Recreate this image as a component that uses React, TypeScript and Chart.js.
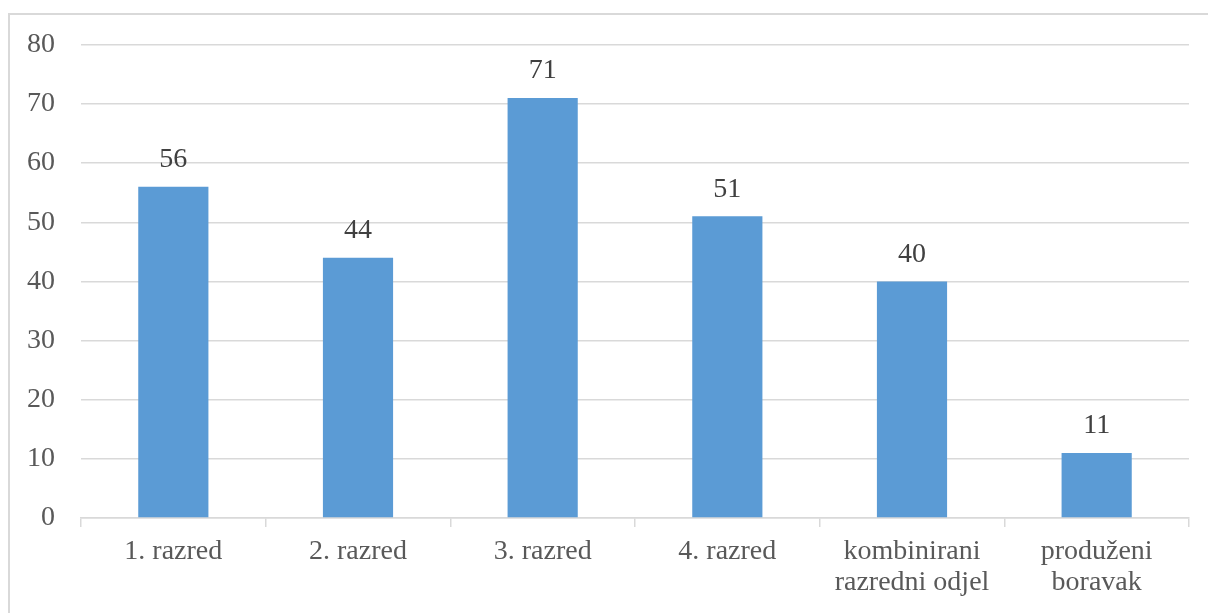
import React, { useEffect, useRef } from "react";
import { Chart, registerables } from "chart.js";

Chart.register(...registerables);

const categories: (string | string[])[] = [
  "1. razred",
  "2. razred",
  "3. razred",
  "4. razred",
  ["kombinirani", "razredni odjel"],
  ["produženi", "boravak"],
];
const values = [56, 44, 71, 51, 40, 11];
const yMin = 0;
const yMax = 80;
const yStep = 10;

const FONT = "'Liberation Serif', 'Times New Roman', serif";

const dataLabelPlugin = {
  id: "dataLabels",
  afterDatasetsDraw(chart: any) {
    const ctx = chart.ctx;
    const meta = chart.getDatasetMeta(0);
    ctx.save();
    ctx.font = `28px ${FONT}`;
    ctx.fillStyle = "#404040";
    ctx.textAlign = "center";
    ctx.textBaseline = "middle";
    meta.data.forEach((bar: any, i: number) => {
      ctx.fillText(String(values[i]), bar.x, bar.y - 27);
    });
    ctx.restore();
  },
};

export default function App() {
  const ref = useRef<HTMLCanvasElement>(null);
  useEffect(() => {
    if (!ref.current) return;
    const chart = new Chart(ref.current, {
      type: "bar",
      data: {
        labels: categories,
        datasets: [
          {
            data: values,
            backgroundColor: "#5B9BD5",
            borderWidth: 0,
            categoryPercentage: 1,
            barPercentage: 0.38,
          },
        ],
      },
      options: {
        animation: false,
        responsive: false,
        maintainAspectRatio: false,
        layout: { padding: { top: 9, right: 19, bottom: 0, left: 0 } },
        plugins: { legend: { display: false }, tooltip: { enabled: false } },
        scales: {
          x: {
            grid: {
              offset: true,
              drawOnChartArea: false,
              drawTicks: true,
              tickLength: 9,
              color: "#d9d9d9",
              lineWidth: 1.5,
            },
            border: { display: true, color: "#d9d9d9", width: 1.5 },
            ticks: {
              color: "#595959",
              font: { family: FONT, size: 28, lineHeight: 1.1 },
              padding: 9,
              maxRotation: 0,
              autoSkip: false,
            },
            afterFit(scale: any) {
              scale.height = 95;
            },
          },
          y: {
            min: yMin,
            max: yMax,
            grid: { color: "#d9d9d9", drawTicks: false, lineWidth: 1.5 },
            border: { display: false },
            ticks: {
              stepSize: yStep,
              color: "#595959",
              font: { family: FONT, size: 28 },
              padding: 26,
            },
            afterFit(scale: any) {
              scale.width = 71;
            },
          },
        },
      },
      plugins: [dataLabelPlugin],
    });
    return () => chart.destroy();
  }, []);
  return (
    <div
      style={{
        position: "fixed",
        left: 8,
        top: 13,
        width: 1220,
        height: 620,
        background: "#fff",
      }}
    >
      <canvas
        ref={ref}
        width={1198}
        height={611}
        style={{ display: "block", position: "absolute", left: 2, top: -11 }}
      />
      <div
        style={{
          position: "absolute",
          left: 0,
          top: 0,
          width: 1220,
          height: 620,
          borderTop: "2px solid #d9d9d9",
          borderLeft: "2px solid #d9d9d9",
          pointerEvents: "none",
        }}
      />
    </div>
  );
}
